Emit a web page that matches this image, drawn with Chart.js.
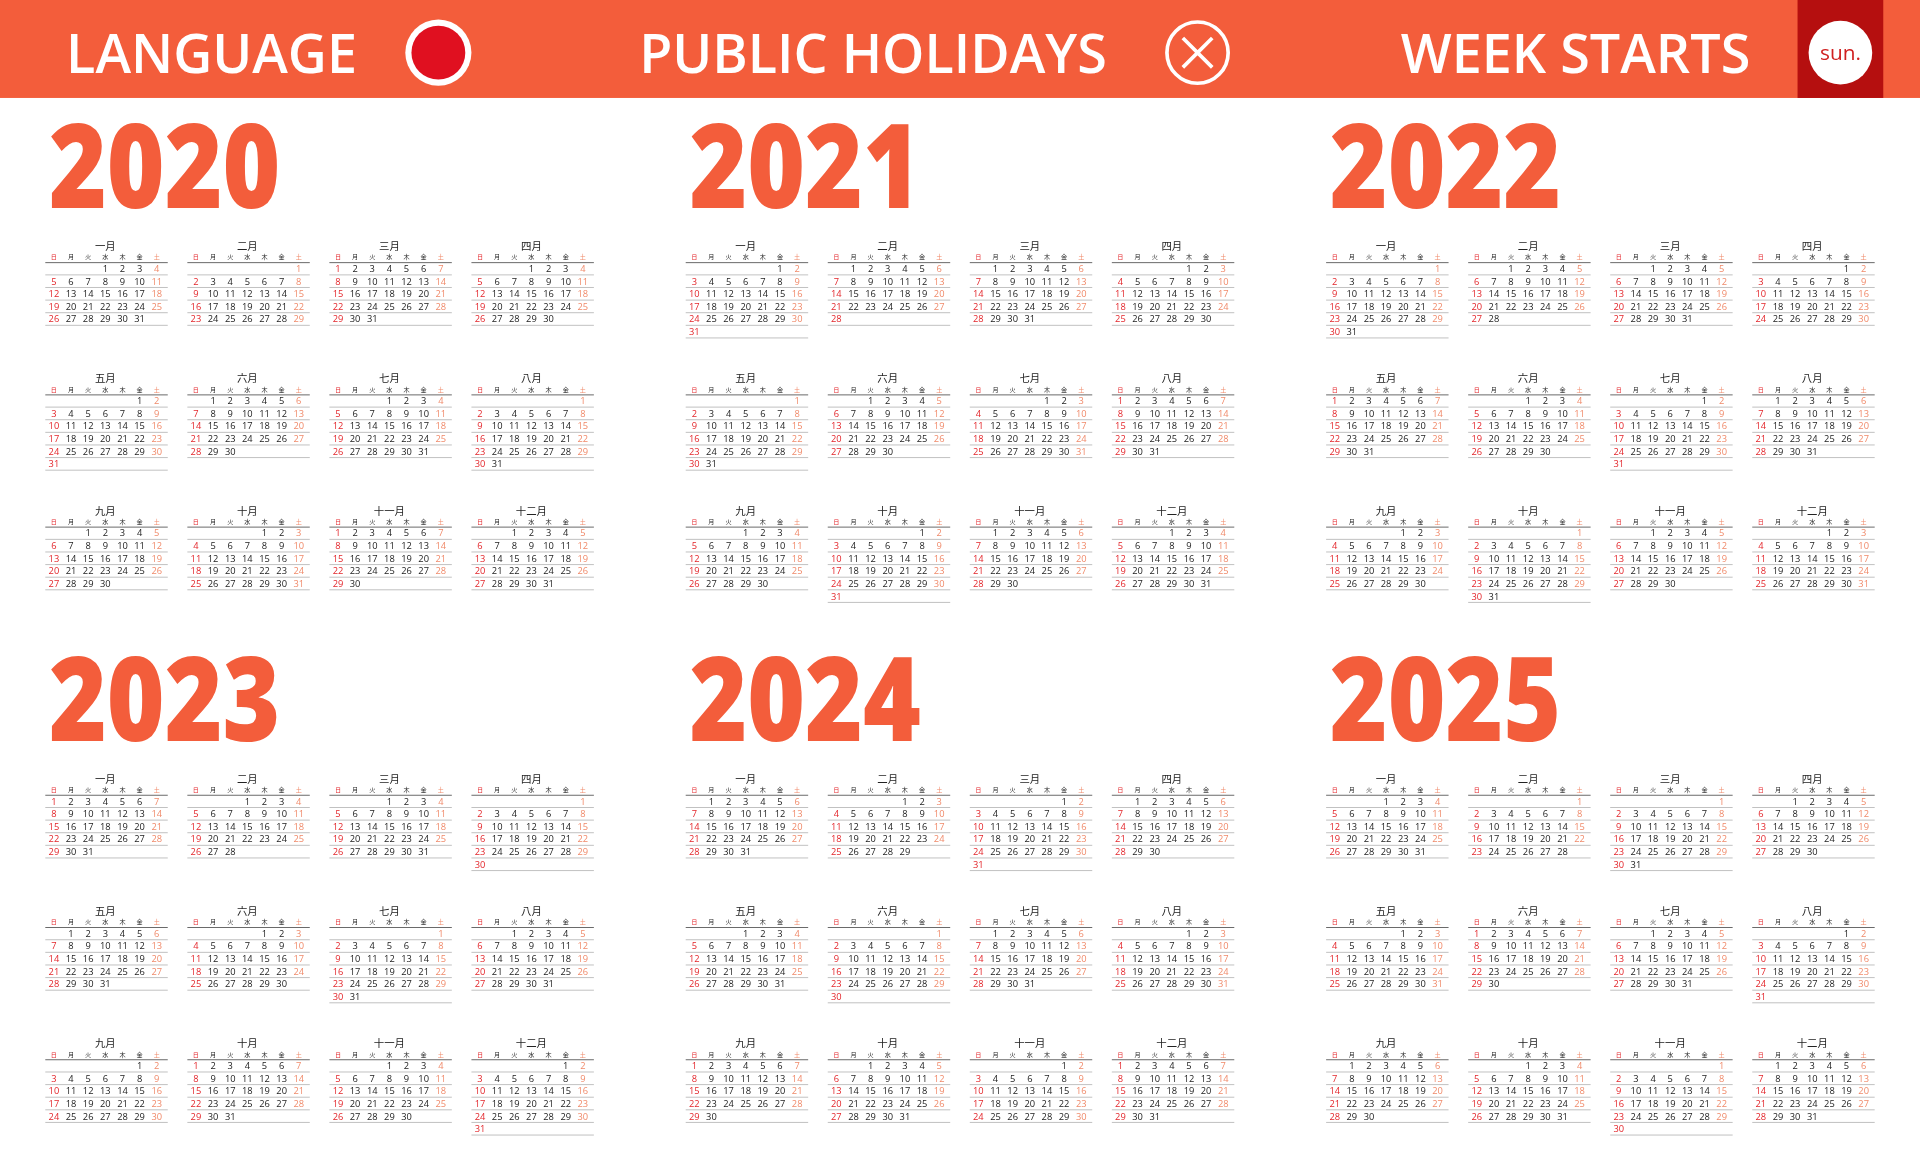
<!DOCTYPE html>
<html><head><meta charset="utf-8">
<script src="https://cdn.jsdelivr.net/npm/chart.js@4/dist/chart.umd.min.js"></script>
<style>html,body{margin:0;padding:0;background:#fff;overflow:hidden}canvas{display:block}</style>
</head><body><canvas id="c" width="1920" height="1173"></canvas>
<script>
const years = [2020, 2021, 2022, 2023, 2024, 2025];
const monthNames = ['一月','二月','三月','四月','五月','六月','七月','八月','九月','十月','十一月','十二月'];
const weekdayNames = ['日','月','火','水','木','金','土'];
const headerLabels = ['LANGUAGE', 'PUBLIC HOLIDAYS', 'WEEK STARTS'];
const headerBadge = 'sun.';

const W = 1568, H = 958;
const dayPts = [], wdPts = [], titlePts = [], yearPts = [], rules = [];
years.forEach((yv, yi) => {
  const bx = 40 + 523 * (yi % 3), by = 201 + 435 * Math.floor(yi / 3);
  yearPts.push({x: bx, y: 170 + 435 * Math.floor(yi / 3), t: String(yv)});
  monthNames.forEach((mn, mi) => {
    const mx = bx + 116 * (mi % 4), ty = by + 108 * Math.floor(mi / 4);
    titlePts.push({x: mx + 46, y: ty, t: mn});
    weekdayNames.forEach((w, d) => wdPts.push({x: mx + 4 + 14 * d, y: ty + 9, t: w, d}));
    const first = new Date(yv, mi, 1).getDay();
    const n = new Date(yv, mi + 1, 0).getDate();
    let maxW = 0;
    for (let day = 1; day <= n; day++) {
      const p = first + day - 1, d = p % 7, wk = Math.floor(p / 7);
      maxW = Math.max(maxW, wk);
      dayPts.push({x: mx + 4 + 14 * d, y: ty + 19 + 10.3 * wk, t: String(day), d});
    }
    rules.push({x0: mx - 3, x1: mx + 97, y: ty + 13.5, dark: true});
    for (let w = 0; w <= maxW; w++) rules.push({x0: mx - 3, x1: mx + 97, y: ty + 23.5 + 10.3 * w});
  });
});

const dayColor = d => d === 0 ? '#e3262b' : d === 6 ? '#f08a6a' : '#222';

const drawPlugin = {
  id: 'cal',
  afterDatasetsDraw(chart) {
    const ctx = chart.ctx, xs = chart.scales.x, ys = chart.scales.y;
    const s = chart.width / W;
    const X = v => xs.getPixelForValue(v), Y = v => ys.getPixelForValue(v);
    ctx.save();
    // header bar
    ctx.fillStyle = '#f35d3b';
    ctx.fillRect(X(0), Y(0), X(W) - X(0), Y(80) - Y(0));
    ctx.fillStyle = '#b50f0f';
    ctx.fillRect(X(1468), Y(0), X(1538) - X(1468), Y(80) - Y(0));
    ctx.fillStyle = '#fff';
    ctx.font = `600 ${44 * s}px "Open Sans"`;
    ctx.textBaseline = 'alphabetic'; ctx.textAlign = 'left';
    ctx.fillText(headerLabels[0], X(54), Y(60));
    ctx.fillText(headerLabels[1], X(522), Y(60));
    ctx.fillText(headerLabels[2], X(1144), Y(60));
    // language circle
    ctx.beginPath(); ctx.arc(X(358), Y(43), 27 * s, 0, 7); ctx.fill();
    ctx.fillStyle = '#e01020'; ctx.beginPath(); ctx.arc(X(358), Y(43), 22 * s, 0, 7); ctx.fill();
    // holidays X circle
    ctx.strokeStyle = '#fff'; ctx.lineWidth = 3 * s;
    ctx.beginPath(); ctx.arc(X(978), Y(43), 25 * s, 0, 7); ctx.stroke();
    ctx.beginPath(); ctx.moveTo(X(966), Y(31)); ctx.lineTo(X(990), Y(55));
    ctx.moveTo(X(990), Y(31)); ctx.lineTo(X(966), Y(55)); ctx.stroke();
    // sun badge
    ctx.fillStyle = '#fff'; ctx.beginPath(); ctx.arc(X(1503), Y(43), 26 * s, 0, 7); ctx.fill();
    ctx.fillStyle = '#d02020'; ctx.font = `500 ${17 * s}px "Open Sans"`; ctx.textAlign = 'center';
    ctx.fillText(headerBadge, X(1503), Y(49));
    // rules
    rules.forEach(r => {
      ctx.strokeStyle = r.dark ? '#666' : '#aaa'; ctx.lineWidth = r.dark ? 0.8 * s : 0.6 * s;
      ctx.beginPath(); ctx.moveTo(X(r.x0), Y(r.y)); ctx.lineTo(X(r.x1), Y(r.y)); ctx.stroke();
    });
    // datasets text
    chart.data.datasets.forEach((ds, i) => {
      const meta = chart.getDatasetMeta(i);
      meta.data.forEach((el, j) => {
        const p = ds.data[j];
        ctx.save();
        if (ds.kind === 'year') {
          ctx.fillStyle = '#f35d3b';
          ctx.font = `800 ${96 * s}px "Open Sans"`;
          ctx.textAlign = 'left'; ctx.textBaseline = 'alphabetic';
          ctx.translate(el.x, el.y); ctx.scale(0.84, 1);
          ctx.fillText(p.t, 0, 0);
        } else if (ds.kind === 'title') {
          ctx.fillStyle = '#222'; ctx.font = `${8.5 * s}px "Noto Sans CJK JP"`;
          ctx.textAlign = 'center'; ctx.textBaseline = 'middle';
          ctx.fillText(p.t, el.x, el.y);
        } else if (ds.kind === 'wd') {
          ctx.fillStyle = dayColor(p.d); ctx.font = `${5 * s}px "Noto Sans CJK JP"`;
          ctx.textAlign = 'center'; ctx.textBaseline = 'middle';
          ctx.fillText(p.t, el.x, el.y);
        } else {
          ctx.fillStyle = dayColor(p.d); ctx.font = `${7.6 * s}px "Open Sans"`;
          ctx.textAlign = 'center'; ctx.textBaseline = 'middle';
          ctx.fillText(p.t, el.x, el.y);
        }
        ctx.restore();
      });
    });
    ctx.restore();
  }
};

new Chart(document.getElementById('c'), {
  type: 'scatter',
  data: {datasets: [
    {kind: 'year', data: yearPts},
    {kind: 'title', data: titlePts},
    {kind: 'wd', data: wdPts},
    {kind: 'day', data: dayPts}
  ]},
  options: {
    responsive: false, animation: false, devicePixelRatio: 1,
    layout: {padding: 0},
    elements: {point: {radius: 0, hoverRadius: 0}},
    plugins: {legend: {display: false}, tooltip: {enabled: false}},
    events: [],
    scales: {
      x: {type: 'linear', min: 0, max: W, display: false},
      y: {type: 'linear', min: 0, max: H, reverse: true, display: false}
    }
  },
  plugins: [drawPlugin]
});
</script></body></html>
